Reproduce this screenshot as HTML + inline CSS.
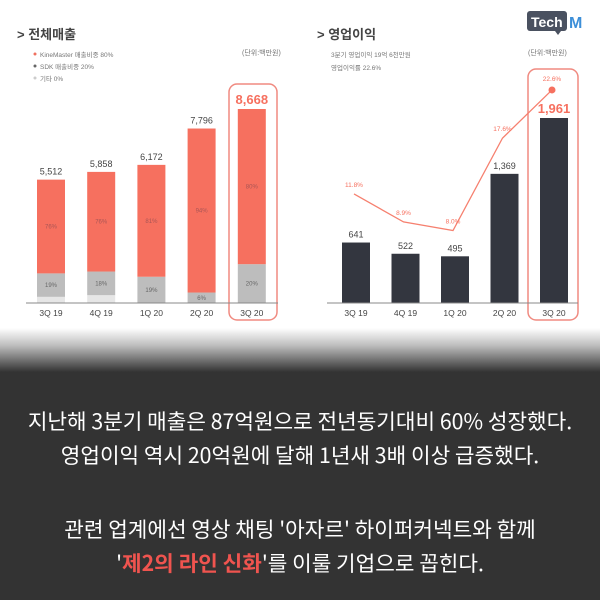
<!DOCTYPE html>
<html><head><meta charset="utf-8"><style>
body{margin:0;width:600px;height:600px;overflow:hidden;background:#fff;font-family:"Liberation Sans","Noto Sans CJK KR",sans-serif}
#top{position:absolute;left:0;top:0;width:600px;height:340px;background:#fff}
#grad{position:absolute;left:0;top:328px;width:600px;height:44px;background:linear-gradient(#fff,#bdbdbd 40%,#333)}
#bot{position:absolute;left:0;top:372px;width:600px;height:228px;background:#333}
.t{position:absolute;left:0;width:600px;text-align:center;color:#fff;font-size:21.3px;font-family:"Noto Sans CJK KR",sans-serif;letter-spacing:0}
.hl{color:#f0544f;font-weight:bold}
</style></head><body>
<div id="top">
<svg id="svg" width="600" height="340" style="position:absolute;left:0;top:0" font-family="Liberation Sans, Noto Sans CJK KR, sans-serif"></svg>
</div>
<div id="grad"></div>
<div id="bot"></div>
<div class="t" style="top:405px">지난해 3분기 매출은 87억원으로 전년동기대비 60% 성장했다.</div>
<div class="t" style="top:439px">영업이익 역시 20억원에 달해 1년새 3배 이상 급증했다.</div>
<div class="t" style="top:513px">관련 업계에선 영상 채팅 '아자르' 하이퍼커넥트와 함께</div>
<div class="t" style="top:547px">'<span class="hl">제2의 라인 신화</span>'를 이룰 기업으로 꼽힌다.</div>
<script>
const categories=["3Q 19","4Q 19","1Q 20","2Q 20","3Q 20"];
const revenue=[5512,5858,6172,7796,8668];
const kinePct=[76,76,81,94,80];
const sdkPct=[19,18,19,6,20];
const etcPct=[5,6,0,0,0];
const profit=[641,522,495,1369,1961];
const margin=[11.8,8.9,8.0,17.6,22.6];
const marginLabels=["11.8%","8.9%","8.0%","17.6%","22.6%"];
const NS="http://www.w3.org/2000/svg";
const svg=document.getElementById('svg');
function el(t,a,txt){const e=document.createElementNS(NS,t);for(const k in a)e.setAttribute(k,a[k]);if(txt!=null)e.textContent=txt;svg.appendChild(e);return e;}
const base=303;
const xL=i=>37+i*50.2, xR=i=>342+i*49.5, bw=28;
const yRev=v=>base-v*194/8668;
const yProf=v=>base-v*185/1961;
const yMar=v=>307.6-v*9.63;
const fmt=v=>v.toLocaleString('en-US');
let e=el('text',{x:17,y:39,'font-size':13,fill:'#444','font-weight':'bold'},'> 전체매출');

[['#f0705f','KineMaster 매출비중 80%'],['#666','SDK 매출비중 20%'],['#ccc','기타 0%']].forEach((l,i)=>{
 let c=el('circle',{cx:35,cy:54+i*12,r:1.5,fill:l[0]});
 let t=el('text',{x:40,y:57+i*12,'font-size':6.5,fill:'#777'},l[1]);
});
e=el('text',{x:242,y:55,'font-size':7,fill:'#777'},'(단위:백만원)');
e=el('rect',{x:229,y:84,width:48,height:236,rx:8,fill:'none',stroke:'#f08a80','stroke-width':1.5});
categories.forEach((c,i)=>{
 const x=xL(i),tot=base-yRev(revenue[i]);
 const hE=tot*etcPct[i]/100,hS=tot*sdkPct[i]/100,hK=tot-hE-hS;
 let r=el('rect',{x:x,y:base-hE,width:bw,height:hE,fill:'#e6e6e6'});
 r=el('rect',{x:x,y:base-hE-hS,width:bw,height:hS,fill:'#bdbdbd'});
 r=el('rect',{x:x,y:yRev(revenue[i]),width:bw,height:hK,fill:'#f6705f'});
 let t=el('text',{x:x+bw/2,y:yRev(revenue[i])+hK/2+2,'font-size':6,fill:'#a55','text-anchor':'middle'},kinePct[i]+'%');
 if(sdkPct[i]){t=el('text',{x:x+bw/2,y:base-hE-hS/2+2,'font-size':6,fill:'#666','text-anchor':'middle'},sdkPct[i]+'%');}
 const last=i===4;
 t=el('text',{x:x+bw/2,y:yRev(revenue[i])-5,'font-size':last?13:9,'font-weight':last?'bold':'normal',fill:last?'#f6705f':'#444','text-anchor':'middle'},fmt(revenue[i]));
 t=el('text',{x:x+bw/2,y:316,'font-size':8.5,fill:'#444','text-anchor':'middle'},c);
});
e=el('line',{x1:26,y1:base,x2:278,y2:base,stroke:'#888','stroke-width':1});
e=el('text',{x:317,y:39,'font-size':13,fill:'#444','font-weight':'bold'},'> 영업이익');
e=el('text',{x:331,y:57,'font-size':6.5,fill:'#777'},'3분기 영업이익 19억 6천만원');
e=el('text',{x:331,y:70,'font-size':6.5,fill:'#777'},'영업이익률 22.6%');
e=el('text',{x:528,y:55,'font-size':7,fill:'#777'},'(단위:백만원)');
e=el('rect',{x:528,y:69,width:50,height:251,rx:8,fill:'none',stroke:'#f08a80','stroke-width':1.5});
categories.forEach((c,i)=>{
 const x=xR(i),last=i===4;
 let r=el('rect',{x:x,y:yProf(profit[i]),width:bw,height:base-yProf(profit[i]),fill:'#33363f'});
 let t=el('text',{x:x+bw/2,y:yProf(profit[i])-5,'font-size':last?13:9,'font-weight':last?'bold':'normal',fill:last?'#f6705f':'#444','text-anchor':'middle'},fmt(profit[i]));
 t=el('text',{x:x+bw/2,y:316,'font-size':8.5,fill:'#444','text-anchor':'middle'},c);
});
const pts=margin.map((m,i)=>(xR(i)+12)+','+yMar(m)).join(' ');
e=el('polyline',{points:pts,fill:'none',stroke:'#f6806f','stroke-width':1.3});
margin.forEach((m,i)=>{
 let t=el('text',{x:xR(i)+12,y:yMar(m)-(i===4?9:7),'font-size':6.5,fill:'#f6705f','text-anchor':'middle'},marginLabels[i]);
});
e=el('circle',{cx:xR(4)+12,cy:yMar(margin[4]),r:3.5,fill:'#f6705f'});
e=el('line',{x1:327,y1:base,x2:578,y2:base,stroke:'#888','stroke-width':1});
e=el('rect',{x:527,y:11,width:40,height:20,rx:3,fill:'#4a5160'});
e=el('polygon',{points:'555,31 561,31 558,35',fill:'#4a5160'});
e=el('text',{x:531,y:27,'font-size':14,'font-weight':'bold',fill:'#fff'},'Tech');
e=el('text',{x:569,y:28,'font-size':16,'font-weight':'bold',fill:'#3d8fd8'},'M');
</script>
</body></html>
